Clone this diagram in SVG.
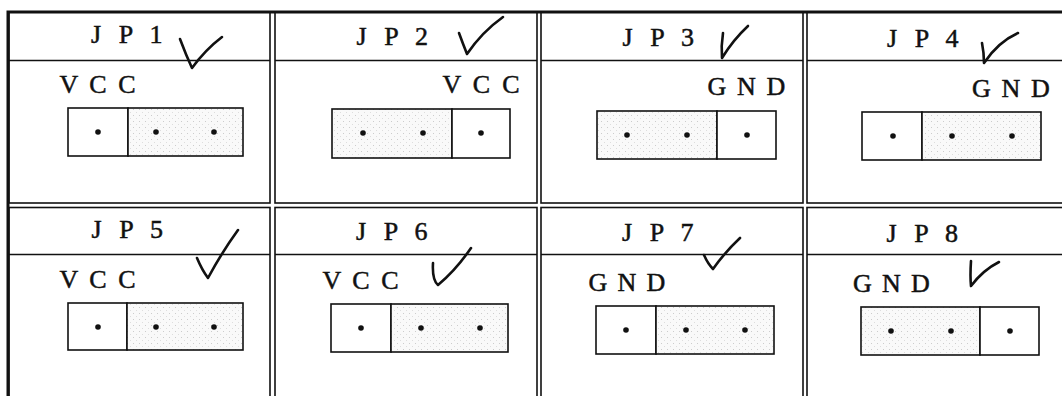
<svg xmlns="http://www.w3.org/2000/svg" width="1062" height="396" viewBox="0 0 1062 396">
<style>
.cell{fill:#fff;stroke:#111;stroke-width:1.6}
.hdr{stroke:#111;stroke-width:1.6}
.t{font-family:"Liberation Serif","DejaVu Serif",serif;font-size:26px;fill:#111;stroke:#111;stroke-width:0.5;text-anchor:middle}
.w{fill:#fff;stroke:#111;stroke-width:1.6}
.s{fill:url(#dots);stroke:#111;stroke-width:1.6}
.d{fill:#111}
.chk{fill:none;stroke:#111;stroke-width:2.6;stroke-linecap:round;stroke-linejoin:round}
.outer{stroke:#111;stroke-width:3;fill:none}
</style>
<defs>
<pattern id="dots" width="6" height="6" patternUnits="userSpaceOnUse">
<rect width="6" height="6" fill="#f9f9f9"/>
<rect x="1" y="1" width="1" height="1" fill="#ccc"/>
<rect x="4" y="4" width="1" height="1" fill="#ddd"/>
</pattern>
</defs>
<rect width="1062" height="396" fill="#fff"/>

<g id="jp1">
<rect class="cell" x="9" y="12" width="261" height="191"/>
<line class="hdr" x1="9" y1="60.5" x2="270" y2="60.5"/>
<text class="t" x="96 126 156" y="43">JP1</text>
<text class="t" x="69 98 127" y="93">VCC</text>
<rect class="w" x="68" y="108" width="60" height="48"/>
<rect class="s" x="128" y="108" width="115" height="48"/>
<circle class="d" cx="98" cy="132" r="2.8"/><circle class="d" cx="156" cy="132" r="2.8"/><circle class="d" cx="214" cy="132" r="2.8"/>
<path class="chk" d="M180,39 Q186,55 192,68 Q205,50 222,37"/>
</g>

<g id="jp2">
<rect class="cell" x="275" y="12" width="262" height="191"/>
<line class="hdr" x1="275" y1="60.5" x2="537" y2="60.5"/>
<text class="t" x="361.5 391.5 421.5" y="45">JP2</text>
<text class="t" x="452 481.5 511" y="93">VCC</text>
<rect class="s" x="332" y="109" width="120" height="49"/>
<rect class="w" x="452" y="109" width="58" height="49"/>
<circle class="d" cx="363" cy="133" r="2.8"/><circle class="d" cx="423" cy="133" r="2.8"/><circle class="d" cx="481" cy="133" r="2.8"/>
<path class="chk" d="M459,33 Q463,44 467,54 Q482,32 503,17"/>
</g>

<g id="jp3">
<rect class="cell" x="541" y="12" width="262" height="191"/>
<line class="hdr" x1="541" y1="60.5" x2="803" y2="60.5"/>
<text class="t" x="627.5 657.5 687.5" y="46">JP3</text>
<text class="t" x="717 746.5 776" y="95">GND</text>
<rect class="s" x="597" y="111" width="120" height="48"/>
<rect class="w" x="717" y="111" width="59" height="48"/>
<circle class="d" cx="627" cy="135" r="2.8"/><circle class="d" cx="687" cy="135" r="2.8"/><circle class="d" cx="747" cy="135" r="2.8"/>
<path class="chk" d="M723,33 Q721,46 722,58 Q733,40 748,26"/>
</g>

<g id="jp4">
<rect class="cell" x="807" y="12" width="265" height="191"/>
<line class="hdr" x1="807" y1="60.5" x2="1062" y2="60.5"/>
<text class="t" x="892 922 952" y="47">JP4</text>
<text class="t" x="981.5 1011 1040.5" y="97">GND</text>
<rect class="w" x="862" y="112" width="60" height="48"/>
<rect class="s" x="922" y="112" width="119" height="48"/>
<circle class="d" cx="893" cy="136" r="2.8"/><circle class="d" cx="952" cy="136" r="2.8"/><circle class="d" cx="1012" cy="136" r="2.8"/>
<path class="chk" d="M982,43 Q984,53 984,63 Q998,42 1018,33"/>
</g>

<g id="jp5">
<rect class="cell" x="9" y="207.5" width="261" height="200"/>
<line class="hdr" x1="9" y1="254.5" x2="270" y2="254.5"/>
<text class="t" x="96.5 126.5 156.5" y="238">JP5</text>
<text class="t" x="69 98 127" y="288">VCC</text>
<rect class="w" x="68" y="303" width="59" height="47"/>
<rect class="s" x="127" y="303" width="116" height="47"/>
<circle class="d" cx="98" cy="327" r="2.8"/><circle class="d" cx="156" cy="327" r="2.8"/><circle class="d" cx="214" cy="327" r="2.8"/>
<path class="chk" d="M197,258 Q202,270 208,278 Q222,252 238,230"/>
</g>

<g id="jp6">
<rect class="cell" x="275" y="207.5" width="262" height="200"/>
<line class="hdr" x1="275" y1="254.5" x2="537" y2="254.5"/>
<text class="t" x="361 391 421" y="240">JP6</text>
<text class="t" x="332 361 390" y="289">VCC</text>
<rect class="w" x="331" y="304" width="60" height="48"/>
<rect class="s" x="391" y="304" width="117" height="48"/>
<circle class="d" cx="361" cy="328" r="2.8"/><circle class="d" cx="421" cy="328" r="2.8"/><circle class="d" cx="480" cy="328" r="2.8"/>
<path class="chk" d="M433,263 Q432,280 438,285 Q456,270 471,248"/>
</g>

<g id="jp7">
<rect class="cell" x="541" y="207.5" width="262" height="200"/>
<line class="hdr" x1="541" y1="254.5" x2="803" y2="254.5"/>
<text class="t" x="627 657 687" y="241">JP7</text>
<text class="t" x="598 627 656" y="291">GND</text>
<rect class="w" x="596" y="306" width="60" height="48"/>
<rect class="s" x="656" y="306" width="118" height="48"/>
<circle class="d" cx="626" cy="330" r="2.8"/><circle class="d" cx="686" cy="330" r="2.8"/><circle class="d" cx="745" cy="330" r="2.8"/>
<path class="chk" d="M704,255 Q708,264 713,269 Q725,252 740,238"/>
</g>

<g id="jp8">
<rect class="cell" x="807" y="207.5" width="265" height="200"/>
<line class="hdr" x1="807" y1="254.5" x2="1062" y2="254.5"/>
<text class="t" x="891.5 921.5 951.5" y="242">JP8</text>
<text class="t" x="862.5 891.5 920.5" y="292">GND</text>
<rect class="s" x="861" y="307" width="119" height="48"/>
<rect class="w" x="980" y="307" width="59" height="48"/>
<circle class="d" cx="891" cy="331" r="2.8"/><circle class="d" cx="951" cy="331" r="2.8"/><circle class="d" cx="1010" cy="331" r="2.8"/>
<path class="chk" d="M971,261 Q970,276 971,286 Q983,270 999,262"/>
</g>

<g id="frame">
<polyline class="outer" points="8,396 8,12 1062,12"/>
</g>
</svg>
